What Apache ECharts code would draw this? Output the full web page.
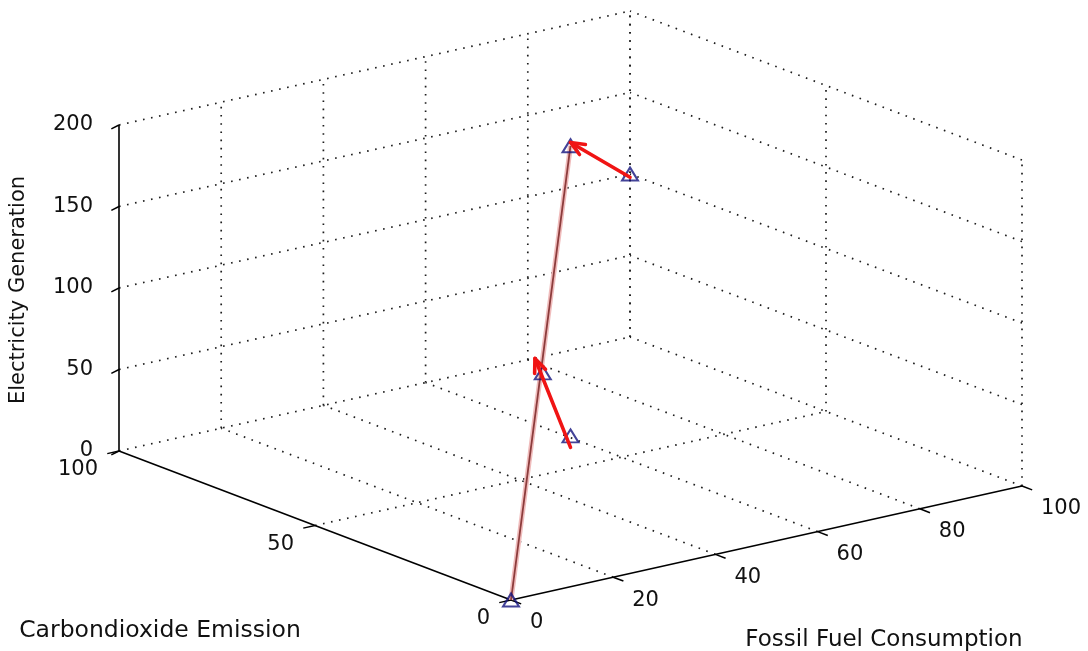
<!DOCTYPE html>
<html>
<head>
<meta charset="utf-8">
<script src="https://cdn.jsdelivr.net/npm/echarts@6/dist/echarts.min.js"></script>
<style>
  html, body { margin: 0; padding: 0; background: #fff; }
  #chart { width: 1088px; height: 651px; }
</style>
</head>
<body>
<div id="chart"></div>
<script>
// Observations: fossil fuel consumption (x), CO2 emission (y), electricity generation (z)
const fossilFuel  = [0, 50, 100, 30, 50];
const co2Emission = [0, 50, 100, 31, 50];
const electricity = [0, 198, 100, 90, 20];

// Connecting trajectory
const pathFossil = [0, 50];
const pathCo2    = [0, 50];
const pathElec   = [0, 198];

// Direction arrows (start -> end)
const arrowFromFossil = [100, 50];
const arrowFromCo2    = [100, 50];
const arrowFromElec   = [98, 13];
const arrowToFossil   = [50, 30];
const arrowToCo2      = [50, 33];
const arrowToElec     = [200, 97];

// Axis ticks
const fossilTicks = [0, 20, 40, 60, 80, 100];
const co2Ticks    = [0, 50, 100];
const elecTicks   = [0, 50, 100, 150, 200];

const FONT = '"DejaVu Sans", "Liberation Sans", sans-serif';
const TEXT_COLOR = '#111';

// Orthographic view of the axis box on the page plane
const VIEW = {
  origin: [511, 600],
  ex: [5.11, -1.14],
  ey: [-3.92, -1.49],
  ez: [0, -1.63]
};
function project(x, y, z) {
  return [
    VIEW.origin[0] + x * VIEW.ex[0] + y * VIEW.ey[0] + z * VIEW.ez[0],
    VIEW.origin[1] + x * VIEW.ex[1] + y * VIEW.ey[1] + z * VIEW.ez[1]
  ];
}
function seg(a, b) { return project(...a).concat(project(...b)); }

const xMax = fossilTicks[fossilTicks.length - 1];
const yMax = co2Ticks[co2Ticks.length - 1];
const zMax = elecTicks[elecTicks.length - 1];

// Dotted grid on the floor and the two back walls
const gridSegs = [];
fossilTicks.slice(1).forEach(x => gridSegs.push(seg([x, 0, 0], [x, yMax, 0])));
co2Ticks.slice(1).forEach(y => gridSegs.push(seg([0, y, 0], [xMax, y, 0])));
fossilTicks.slice(1).forEach(x => gridSegs.push(seg([x, yMax, 0], [x, yMax, zMax])));
elecTicks.slice(1).forEach(z => gridSegs.push(seg([0, yMax, z], [xMax, yMax, z])));
co2Ticks.forEach(y => gridSegs.push(seg([xMax, y, 0], [xMax, y, zMax])));
elecTicks.slice(1).forEach(z => gridSegs.push(seg([xMax, 0, z], [xMax, yMax, z])));

// Solid axis lines
const axisSegs = [
  seg([0, 0, 0], [xMax, 0, 0]),
  seg([0, 0, 0], [0, yMax, 0]),
  seg([0, yMax, 0], [0, yMax, zMax])
];

// Tick marks
const tickSegs = [];
fossilTicks.forEach(x => tickSegs.push(seg([x, 0, 0], [x, -2.6, 0])));
co2Ticks.forEach(y => tickSegs.push(seg([0, y, 0], [-2.3, y, 0])));
elecTicks.forEach(z => tickSegs.push(seg([0, yMax, z], [-1.5, yMax, z - 1.3])));

// Tick labels: [px, py, text, align]
const tickLabels = [];
fossilTicks.forEach(x => { const p = project(x, 0, 0); tickLabels.push([p[0] + 19, p[1] + 23, String(x), 'left']); });
co2Ticks.forEach(y => { const p = project(0, y, 0); tickLabels.push([p[0] - 21, p[1] + 19, String(y), 'right']); });
elecTicks.forEach(z => { const p = project(0, yMax, z); tickLabels.push([p[0] - 26, p[1], String(z), 'right']); });

const markerPts = fossilFuel.map((x, i) => project(x, co2Emission[i], electricity[i]));
const pathPts = pathFossil.map((x, i) => project(x, pathCo2[i], pathElec[i]));
const arrowSegs = arrowFromFossil.map((x, i) =>
  seg([x, arrowFromCo2[i], arrowFromElec[i]], [arrowToFossil[i], arrowToCo2[i], arrowToElec[i]]));

function segmentSeries(data, style, z) {
  return {
    type: 'custom',
    coordinateSystem: 'cartesian2d',
    silent: true,
    z: z,
    dimensions: ['x1', 'y1', 'x2', 'y2'],
    encode: { x: [0, 2], y: [1, 3] },
    data: data,
    renderItem: function (params, api) {
      const p1 = api.coord([api.value(0), api.value(1)]);
      const p2 = api.coord([api.value(2), api.value(3)]);
      return { type: 'line', shape: { x1: p1[0], y1: p1[1], x2: p2[0], y2: p2[1] }, style: style };
    }
  };
}

const chart = echarts.init(document.getElementById('chart'), null, { renderer: 'canvas' });
chart.setOption({
  backgroundColor: '#ffffff',
  animation: false,
  grid: { left: 0, right: 0, top: 0, bottom: 0 },
  xAxis: { type: 'value', min: 0, max: 1088, show: false },
  yAxis: { type: 'value', min: 0, max: 651, inverse: true, show: false },
  graphic: [
    { type: 'text', x: 19, y: 290, rotation: Math.PI / 2,
      style: { text: 'Electricity Generation', font: '21px ' + FONT, fill: TEXT_COLOR, align: 'center', verticalAlign: 'middle' } },
    { type: 'text', x: 160, y: 631,
      style: { text: 'Carbondioxide Emission', font: '23.5px ' + FONT, fill: TEXT_COLOR, align: 'center', verticalAlign: 'middle' } },
    { type: 'text', x: 884, y: 640,
      style: { text: 'Fossil Fuel Consumption', font: '23px ' + FONT, fill: TEXT_COLOR, align: 'center', verticalAlign: 'middle' } }
  ],
  series: [
    segmentSeries(gridSegs, { stroke: '#1e1e1e', lineWidth: 1.7, lineDash: [1.6, 6.6] }, 1),
    segmentSeries(axisSegs, { stroke: '#000', lineWidth: 1.6 }, 2),
    segmentSeries(tickSegs, { stroke: '#000', lineWidth: 1.5 }, 2),
    {
      type: 'custom',
      coordinateSystem: 'cartesian2d',
      silent: true,
      z: 3,
      data: tickLabels.map(t => [t[0], t[1]]),
      renderItem: function (params, api) {
        const p = api.coord([api.value(0), api.value(1)]);
        const t = tickLabels[params.dataIndex];
        return { type: 'text', x: p[0], y: p[1],
          style: { text: t[2], font: '21px ' + FONT, fill: TEXT_COLOR, align: t[3], verticalAlign: 'middle' } };
      }
    },
    {
      type: 'line', z: 4, silent: true, showSymbol: false, data: pathPts,
      lineStyle: { color: '#f0bcbc', width: 5 }
    },
    {
      type: 'line', z: 5, silent: true, showSymbol: false, data: pathPts,
      lineStyle: { color: '#8c3c3c', width: 1.8 }
    },
    {
      type: 'scatter', z: 6, silent: true, data: markerPts,
      symbol: 'triangle', symbolSize: [16, 13],
      itemStyle: { color: 'rgba(0,0,0,0)', borderColor: '#14147e', borderWidth: 2 }
    },
    {
      type: 'custom',
      coordinateSystem: 'cartesian2d',
      silent: true,
      z: 7,
      dimensions: ['x1', 'y1', 'x2', 'y2'],
      encode: { x: [0, 2], y: [1, 3] },
      data: arrowSegs,
      renderItem: function (params, api) {
        const p1 = api.coord([api.value(0), api.value(1)]);
        const p2 = api.coord([api.value(2), api.value(3)]);
        const ang = Math.atan2(p2[1] - p1[1], p2[0] - p1[0]);
        const L = 15, spread = 0.4;
        const h1 = [p2[0] - L * Math.cos(ang - spread), p2[1] - L * Math.sin(ang - spread)];
        const h2 = [p2[0] - L * Math.cos(ang + spread), p2[1] - L * Math.sin(ang + spread)];
        const st = { stroke: '#f01414', lineWidth: 3.6, lineCap: 'round', lineJoin: 'round', fill: null };
        return {
          type: 'group',
          children: [
            { type: 'line', shape: { x1: p1[0], y1: p1[1], x2: p2[0], y2: p2[1] }, style: st },
            { type: 'polyline', shape: { points: [h1, p2, h2] }, style: st }
          ]
        };
      }
    }
  ]
});
</script>
</body>
</html>
